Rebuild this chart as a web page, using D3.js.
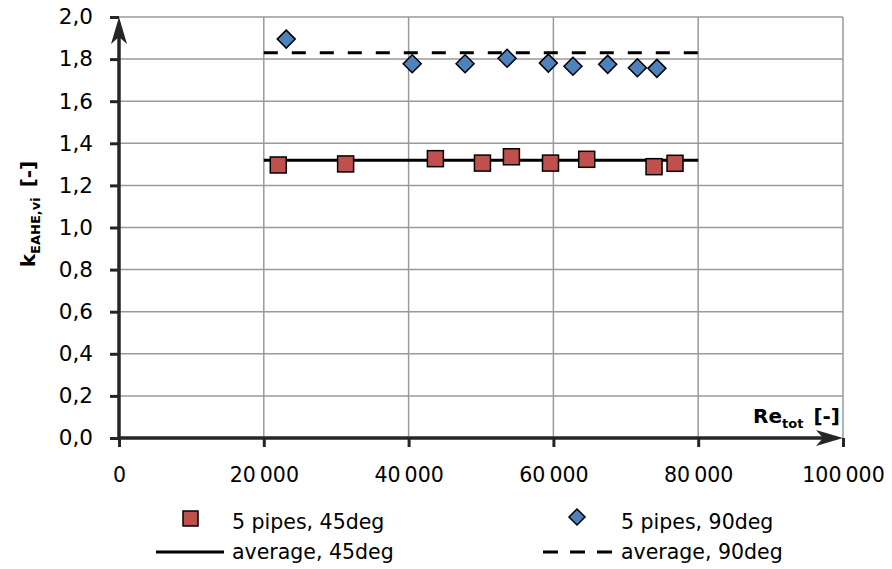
<!DOCTYPE html>
<html>
<head>
<meta charset="utf-8">
<script src="https://cdn.jsdelivr.net/npm/d3@7"></script>
<style>
  body { margin: 0; background: #fff; }
  svg { display: block; font-family: "DejaVu Sans", sans-serif; }
</style>
</head>
<body>
<div id="chart"></div>
<script>
// data
var re45 = [22000, 31300, 43700, 50200, 54200, 59600, 64600, 73900, 76800];
var k45  = [1.297, 1.302, 1.327, 1.306, 1.336, 1.306, 1.324, 1.289, 1.305];
var re90 = [23100, 40500, 47800, 53600, 59300, 62700, 67500, 71600, 74300];
var k90  = [1.895, 1.778, 1.778, 1.804, 1.781, 1.766, 1.775, 1.759, 1.756];
var avg45 = 1.32, avg90 = 1.83;
var avgRange = [20000, 80000];
var xTicks = [0, 20000, 40000, 60000, 80000, 100000];
var yTicks = [0, 0.2, 0.4, 0.6, 0.8, 1.0, 1.2, 1.4, 1.6, 1.8, 2.0];

var W = 892, H = 569;
var pL = 119, pR = 843, pT = 17, pB = 438;

var svg = d3.select("#chart").append("svg")
  .attr("width", W).attr("height", H);

var x = d3.scaleLinear().domain([0, 100000]).range([pL, pR]);
var y = d3.scaleLinear().domain([0, 2]).range([pB, pT]);

var fmtX = function(d) { return d3.format(",")(d).replace(/,/g, "\u2009"); };
var fmtY = function(d) { return d3.format(".1f")(d).replace(".", ","); };

// grid
svg.append("g").selectAll("line").data(yTicks.slice(1)).enter().append("line")
  .attr("x1", pL).attr("x2", pR)
  .attr("y1", function(d) { return y(d); }).attr("y2", function(d) { return y(d); })
  .attr("stroke", "#9a9a9a").attr("stroke-width", 1.5);
svg.append("g").selectAll("line").data(xTicks.slice(1)).enter().append("line")
  .attr("y1", pT).attr("y2", pB)
  .attr("x1", function(d) { return x(d); }).attr("x2", function(d) { return x(d); })
  .attr("stroke", "#9a9a9a").attr("stroke-width", 1.5);

// axes
var yAxis = d3.axisLeft(y).tickValues(yTicks).tickFormat(fmtY).tickSize(9).tickPadding(17);
var xAxis = d3.axisBottom(x).tickValues(xTicks).tickFormat(fmtX).tickSize(9).tickPadding(20);

var gy = svg.append("g").attr("transform", "translate(" + pL + ",0)").call(yAxis);
var gx = svg.append("g").attr("transform", "translate(0," + pB + ")").call(xAxis);
[gy, gx].forEach(function(g) {
  g.select(".domain").remove();
  g.selectAll(".tick line").attr("stroke", "#262626").attr("stroke-width", 3);
  g.selectAll(".tick text").attr("fill", "#000").style("font-size", "20.5px")
    .style("font-family", "DejaVu Sans, sans-serif");
});
gy.selectAll(".tick text").style("font-size", "21.5px");

// axis lines with arrows
svg.append("line").attr("x1", pL).attr("x2", pL).attr("y1", pB + 1).attr("y2", pT + 6)
  .attr("stroke", "#262626").attr("stroke-width", 3.5);
svg.append("line").attr("x1", pL - 1).attr("x2", pR - 6).attr("y1", pB).attr("y2", pB)
  .attr("stroke", "#262626").attr("stroke-width", 3.5);
svg.append("path")
  .attr("d", "M" + pL + "," + pT + " L" + (pL - 8) + "," + (pT + 27) + " L" + pL + "," + (pT + 20) +
             " L" + (pL + 8) + "," + (pT + 27) + " Z")
  .attr("fill", "#262626");
svg.append("path")
  .attr("d", "M" + pR + "," + pB + " L" + (pR - 27) + "," + (pB - 8) + " L" + (pR - 20) + "," + pB +
             " L" + (pR - 27) + "," + (pB + 8) + " Z")
  .attr("fill", "#262626");

// average lines
svg.append("line")
  .attr("x1", x(avgRange[0])).attr("x2", x(avgRange[1]))
  .attr("y1", y(avg45)).attr("y2", y(avg45))
  .attr("stroke", "#000").attr("stroke-width", 3);
svg.append("line")
  .attr("x1", x(avgRange[0])).attr("x2", x(avgRange[1]))
  .attr("y1", y(avg90)).attr("y2", y(avg90))
  .attr("stroke", "#000").attr("stroke-width", 3).attr("stroke-dasharray", "14,14");

// markers
var diamond = function(s) { return "M0," + (-s) + " L" + s + ",0 L0," + s + " L" + (-s) + ",0 Z"; };
svg.append("g").selectAll("path").data(re90).enter().append("path")
  .attr("transform", function(d, i) { return "translate(" + x(d) + "," + y(k90[i]) + ")"; })
  .attr("d", diamond(9))
  .attr("fill", "#4F81BD").attr("stroke", "#000").attr("stroke-width", 1.5);
svg.append("g").selectAll("rect").data(re45).enter().append("rect")
  .attr("x", function(d) { return x(d) - 8; })
  .attr("y", function(d, i) { return y(k45[i]) - 8; })
  .attr("width", 16).attr("height", 16)
  .attr("fill", "#C0504D").attr("stroke", "#000").attr("stroke-width", 1.5);

// axis titles
var yt = svg.append("text")
  .attr("transform", "translate(35,214) rotate(-90)")
  .attr("text-anchor", "middle")
  .style("font-weight", "bold").style("font-size", "20px");
yt.append("tspan").text("k");
yt.append("tspan").attr("dy", 5).style("font-size", "13px").text("EAHE,vi");
yt.append("tspan").attr("dy", -5).text("\u2002[-]");

var xt = svg.append("text")
  .attr("x", 840).attr("y", 423)
  .attr("text-anchor", "end")
  .style("font-weight", "bold").style("font-size", "20px");
xt.append("tspan").text("Re");
xt.append("tspan").attr("dy", 5).style("font-size", "13px").text("tot");
xt.append("tspan").attr("dy", -5).text("\u2002[-]");

// legend
var lg = svg.append("g").style("font-size", "20.5px");
lg.append("rect").attr("x", 183).attr("y", 511).attr("width", 15).attr("height", 15)
  .attr("fill", "#C0504D").attr("stroke", "#000").attr("stroke-width", 1.5);
lg.append("text").attr("x", 232).attr("y", 529).text("5 pipes, 45deg");
lg.append("path").attr("transform", "translate(577,517)").attr("d", diamond(8))
  .attr("fill", "#4F81BD").attr("stroke", "#000").attr("stroke-width", 1.5);
lg.append("text").attr("x", 621).attr("y", 529).text("5 pipes, 90deg");
lg.append("line").attr("x1", 156).attr("x2", 224).attr("y1", 552).attr("y2", 552)
  .attr("stroke", "#000").attr("stroke-width", 3);
lg.append("text").attr("x", 232).attr("y", 559).text("average, 45deg");
lg.append("line").attr("x1", 543).attr("x2", 613).attr("y1", 552).attr("y2", 552)
  .attr("stroke", "#000").attr("stroke-width", 3).attr("stroke-dasharray", "15,12");
lg.append("text").attr("x", 621).attr("y", 559).text("average, 90deg");
</script>
</body>
</html>
